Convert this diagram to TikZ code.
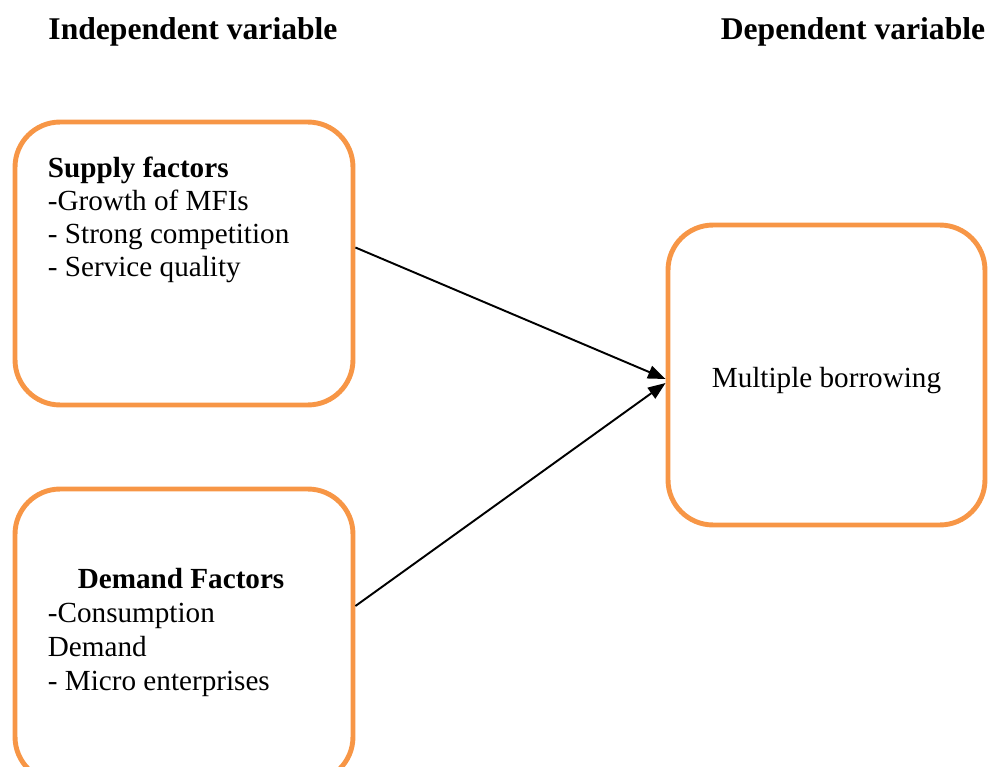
\documentclass[tikz,border=0pt]{standalone}
\usepackage{fontspec}
\setmainfont{Liberation Serif}
\usetikzlibrary{arrows.meta}

\definecolor{boxorange}{RGB}{247,150,70}

\tikzset{
  factorbox/.style={draw=boxorange,line width=2.8pt,rounded corners=0.9cm,
    minimum width=6.76cm,inner sep=0pt},
  factortext/.style={anchor=north west,inner sep=0pt,align=left},
  heading/.style={font=\fontsize{18}{21}\selectfont\bfseries},
  conn/.style={-{Triangle[length=10pt,width=7.5pt]},line width=1.1pt},
}

\begin{document}
\begin{tikzpicture}[x=0.02cm,y=-0.02cm,font=\fontsize{16.6}{18.8}\selectfont]
    \useasboundingbox (0,0) rectangle (992,767);

    % headings
    \node [heading] (indep) at (193,32) {Independent variable};
    \node [heading] (depend) at (853,32) {Dependent variable};

    % boxes
    \node [factorbox,minimum height=5.66cm] (supply) at (184,263.5) {};
    \node [factorbox,minimum height=5.86cm] (demand) at (184,635.5) {};
    \node [factorbox,minimum width=6.34cm,minimum height=6cm]
      (borrow) at (826.5,375) {};

    \node (borrow-text) at ([yshift=-0.12cm]borrow.center) {Multiple borrowing};

    \node [factortext] (supply-text) at ([shift={(35,37)}]supply.north west)
      {\textbf{Supply factors}\\-Growth of MFIs\\- Strong competition\\- Service quality};

    \node [factortext,font=\fontsize{16.6}{19.4}\selectfont] (demand-text)
      at ([shift={(35,81)}]demand.north west)
      {\hspace*{17pt}\textbf{Demand Factors}\\-Consumption\\Demand\\- Micro enterprises};

    % arrows
    \draw [conn] ([yshift=0.32cm]supply.east) -- ([yshift=-0.08cm]borrow.west);
    \draw [conn] ([yshift=0.59cm]demand.east) -- ([yshift=-0.16cm]borrow.west);
\end{tikzpicture}
\end{document}
